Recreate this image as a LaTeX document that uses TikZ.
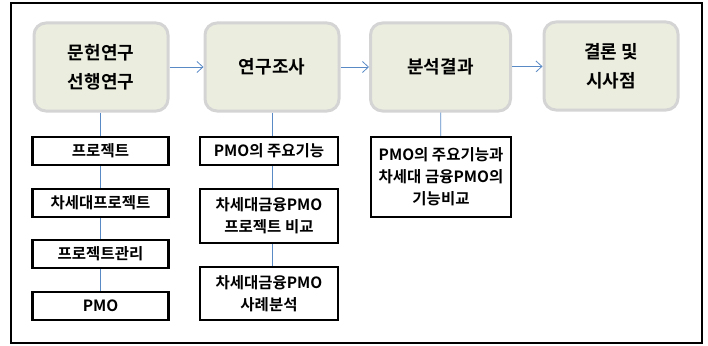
\documentclass[tikz,border=0pt]{standalone}
\usepackage{fontspec}
\setmainfont{Noto Sans CJK KR}[BoldFont={* Bold}]
\usetikzlibrary{arrows.meta}
\definecolor{mainfill}{HTML}{EBEEDF}
\definecolor{mainedge}{HTML}{D4D4D4}
\definecolor{link}{HTML}{5A8AC6}
\tikzset{
  mainbox/.style={draw=mainedge, line width=3pt, fill=mainfill, rounded corners=12pt,
    minimum width=134pt, minimum height=88pt, align=center, font=\fontsize{18}{29}\selectfont\bfseries, inner sep=0pt},
  subbox/.style={draw=black, line width=2.4pt, fill=white, align=center,
    font=\fontsize{15.5}{22}\selectfont\bfseries, inner sep=0pt, minimum width=136pt},
  flow/.style={draw=link, line width=0.8pt, -{Straight Barb[length=6pt,width=11pt,line width=0.8pt]}},
  tie/.style={draw=link, line width=0.8pt}
}
\begin{document}
\begin{tikzpicture}[x=1pt,y=-1pt]
\useasboundingbox (0,0) rectangle (708,345);
\node[draw=black, line width=1.6pt, minimum width=691pt, minimum height=340pt, inner sep=0pt] (frame) at (356.5,173) {};
\node[mainbox] (m1) at (101,67) {문헌연구\\선행연구};
\node[mainbox] (m2) at (272,67) {연구조사};
\node[mainbox, minimum width=140pt] (m3) at (440.5,67) {분석결과};
\node[mainbox] (m4) at (611,66) {결론 및\\시사점};
\draw[flow] (m1) -- (m2);
\draw[flow] (m2) -- (m3);
\draw[flow] (m3) -- (m4);
% column 1
\node[subbox, minimum height=28pt] (a1) at (100.5,151) {프로젝트};
\node[subbox, minimum height=28pt] (a2) at (100.5,203) {차세대프로젝트};
\node[subbox, minimum height=28pt] (a3) at (100.5,254) {프로젝트관리};
\node[subbox, minimum height=28pt] (a4) at (100.5,306) {PMO};
\draw[tie] (m1.south -| a1) -- (a1);
\draw[tie] (a1) -- (a2);
\draw[tie] (a2) -- (a3);
\draw[tie] (a3) -- (a4);
% column 2
\node[subbox, minimum width=138pt, minimum height=28pt] (b1) at (269,151) {PMO의 주요기능};
\node[subbox, minimum width=138pt, minimum height=54pt] (b2) at (269,216) {차세대금융PMO\\프로젝트 비교};
\node[subbox, minimum width=138pt, minimum height=53pt] (b3) at (269,293.5) {차세대금융PMO\\사례분석};
\draw[tie] (m2.south) -- (m2.south |- b1.north);
\draw[tie] (b1.south -| m2.south) -- (b2.north -| m2.south);
\draw[tie] (b2.south -| m2.south) -- (b3.north -| m2.south);
% column 3
\node[subbox, minimum width=140pt, minimum height=80pt] (c1) at (441,177) {PMO의 주요기능과\\차세대 금융PMO의\\기능비교};
\draw[tie] (m3) -- (c1);
\end{tikzpicture}
\end{document}
